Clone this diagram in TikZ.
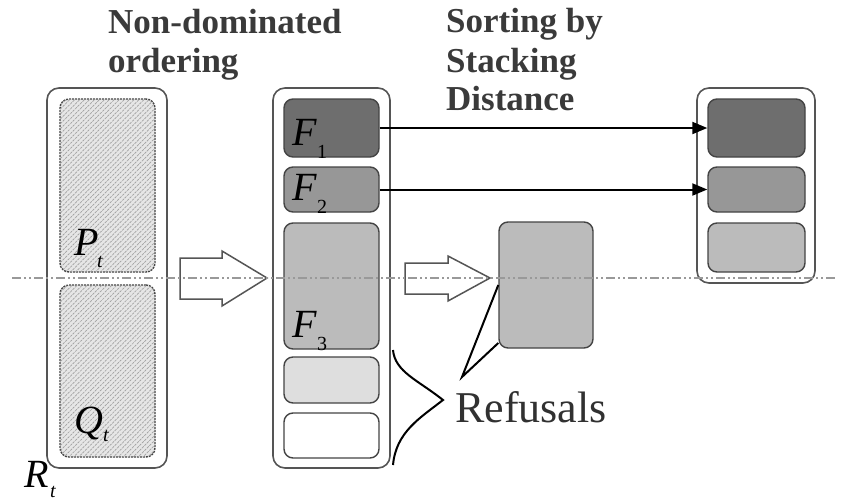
\documentclass[tikz,border=0pt]{standalone}
\usepackage{fontspec}
\setmainfont{Liberation Serif}
\usetikzlibrary{patterns.meta,arrows.meta}
\definecolor{txtgray}{HTML}{3A3A3A}
\definecolor{edgegray}{HTML}{555555}
\definecolor{fA}{HTML}{6E6E6E}
\definecolor{fB}{HTML}{979797}
\definecolor{fC}{HTML}{BBBBBB}
\definecolor{fD}{HTML}{DEDEDE}
\definecolor{hatchbg}{HTML}{E6E6E6}
\definecolor{hatchln}{HTML}{A0A0A0}
\begin{document}
\begin{tikzpicture}[x=1pt,y=-1pt,
  outerbox/.style={draw=edgegray,line width=1.6pt,rounded corners=12pt,inner sep=0pt,fill=white},
  innerbox/.style={draw=edgegray!80!black,line width=1.4pt,rounded corners=9pt,inner sep=0pt},
  hatchbox/.style={innerbox,fill=hatchbg,postaction={pattern={Lines[angle=45,distance=3.5pt,line width=0.7pt]},pattern color=hatchln},dash pattern=on 2pt off 1pt},
  titletext/.style={font=\fontsize{35}{40}\selectfont\bfseries,text=txtgray,inner sep=0pt},
  sym/.style={font=\fontsize{40}{40}\selectfont\itshape,text=black,inner sep=0pt},
  sub/.style={font=\fontsize{20}{20}\selectfont,inner sep=0pt},
  subi/.style={font=\fontsize{20}{20}\selectfont\itshape,inner sep=0pt},
  hollow/.style={draw=edgegray,line width=1.5pt,fill=white,line join=miter},
  conn/.style={draw=black,line width=2pt,-{Triangle[length=15pt,width=12pt]}},
  leader/.style={draw=black,line width=2pt},
  axisline/.style={draw=gray!80,line width=2pt,dash pattern=on 9pt off 3pt on 2pt off 3pt on 2pt off 3pt}
]
\useasboundingbox (0,0) rectangle (844,501);
% left column
\node[outerbox,minimum width=120pt,minimum height=380pt] (R) at (107,278) {};
\node[hatchbox,minimum width=95pt,minimum height=173pt] (P) at (107.5,185.5) {};
\node[hatchbox,minimum width=95pt,minimum height=172pt] (Q) at (107.5,371) {};
% middle column
\node[outerbox,minimum width=117pt,minimum height=380pt] (M) at (331.5,278) {};
\node[innerbox,fill=fA,minimum width=95pt,minimum height=58pt] (F1) at (331.5,128) {};
\node[innerbox,fill=fB,minimum width=95pt,minimum height=45pt] (F2) at (331.5,189.5) {};
\node[innerbox,fill=fC,minimum width=95pt,minimum height=126pt] (F3) at (331.5,286) {};
\node[innerbox,fill=fD,minimum width=95pt,minimum height=46pt] (B4) at (331.5,380) {};
\node[innerbox,fill=white,minimum width=95pt,minimum height=45pt] (B5) at (331.5,435.5) {};
% right column
\node[outerbox,minimum width=118pt,minimum height=195pt] (S) at (756,185.5) {};
\node[innerbox,fill=fA,minimum width=97pt,minimum height=58pt] (S1) at (756.5,128) {};
\node[innerbox,fill=fB,minimum width=97pt,minimum height=45pt] (S2) at (756.5,189.5) {};
\node[innerbox,fill=fC,minimum width=97pt,minimum height=49pt] (S3) at (756.5,247.5) {};
% refused block
\node[innerbox,fill=fC,minimum width=94pt,minimum height=126pt] (RB) at (546,285) {};
% hollow arrows
\coordinate (tipA) at (267,278);
\coordinate (tipB) at (490,278);
\draw[hollow] (180,258) -- (222,258) -- (222,251) -- (tipA) -- (222,306) -- (222,299) -- (180,299) -- cycle;
\draw[hollow] (405,263) -- (448,263) -- (448,256) -- (tipB) -- (448,301) -- (448,294) -- (405,294) -- cycle;
% axis line
\coordinate (axL) at (12,278);
\coordinate (axR) at (836,278);
\draw[axisline] (axL) -- (axR);
% connectors
\draw[conn] (F1.east) -- (S1.west);
\draw[conn] (F2.east) -- (S2.west);
% refusal brace and leader
\coordinate (brTop) at (393,350);
\coordinate (brTip) at (443,400);
\coordinate (brBot) at (393,465);
\draw[leader] (brTop) .. controls (395,372) and (418,380) .. (brTip)
  .. controls (420,418) and (396,432) .. (brBot);
\coordinate (ldTip) at (462,377);
\draw[leader,line join=miter] (RB.west |- 0,285) -- (ldTip) -- (RB.west |- 0,343);
% labels
\node[titletext,anchor=base west] (t1a) at (108,33) {Non-dominated};
\node[titletext,anchor=base west] (t1b) at (108,72) {ordering};
\node[titletext,anchor=base west] (t2a) at (446,32) {Sorting by};
\node[titletext,anchor=base west] (t2b) at (446,72) {Stacking};
\node[titletext,anchor=base west] (t2c) at (446,110) {Distance};
\node[font=\fontsize{44}{44}\selectfont,text=txtgray!85!black,inner sep=0pt,anchor=base west] (ref) at (455,422) {Refusals};
% symbols
\node[sym,anchor=base west] (lF1) at (292,145) {F};
\node[sub,anchor=base west] (lF1s) at (317,158) {1};
\node[sym,anchor=base west] (lF2) at (292,200) {F};
\node[sub,anchor=base west] (lF2s) at (317,213) {2};
\node[sym,anchor=base west] (lF3) at (292,337) {F};
\node[sub,anchor=base west] (lF3s) at (317,350) {3};
\node[sym,anchor=base west] (lP) at (74,255) {P};
\node[subi,anchor=base west] (lPs) at (97,267) {t};
\node[sym,anchor=base west] (lQ) at (74,433) {Q};
\node[subi,anchor=base west] (lQs) at (103,441) {t};
\node[sym,anchor=base west] (lR) at (24,487) {R};
\node[subi,anchor=base west] (lRs) at (50,497) {t};
\end{tikzpicture}
\end{document}
